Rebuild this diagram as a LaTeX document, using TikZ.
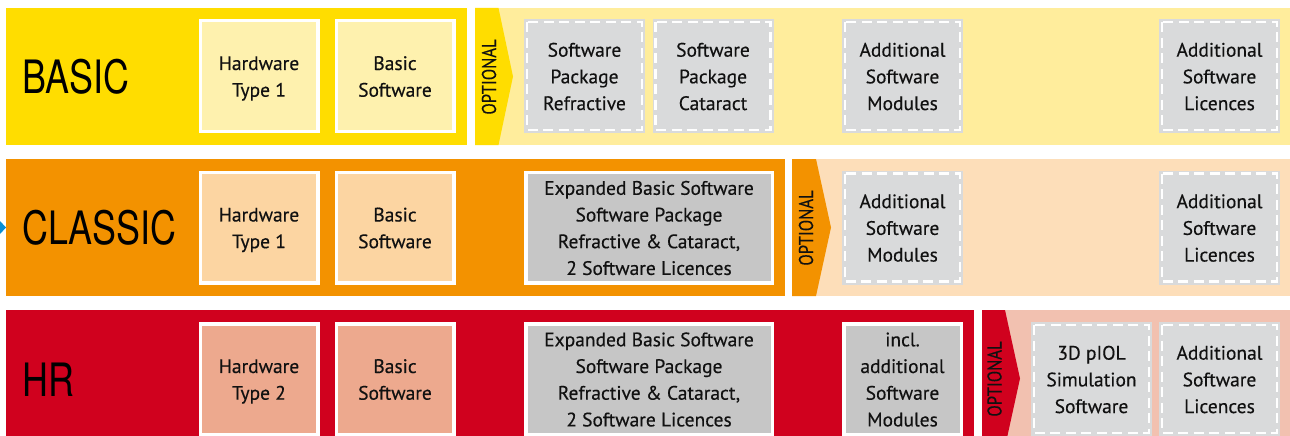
\documentclass[tikz,border=0pt]{standalone}
\usepackage{graphicx}
\usepackage{fontspec}
\setmainfont{PT Sans}[FakeBold=0.35]
\newfontfamily\titlefont{TeX Gyre Heros}
\definecolor{yelD}{HTML}{FFDD00}
\definecolor{yelL}{HTML}{FFED9C}
\definecolor{yelB}{HTML}{FEF1AE}
\definecolor{oraD}{HTML}{F39200}
\definecolor{oraL}{HTML}{FDDEB9}
\definecolor{oraB}{HTML}{FCD5A2}
\definecolor{redD}{HTML}{D0011E}
\definecolor{redL}{HTML}{F2C1B0}
\definecolor{redB}{HTML}{EDA98E}
\definecolor{greyDash}{HTML}{D9DADB}
\definecolor{greySolid}{HTML}{C6C6C6}
\definecolor{blueMark}{HTML}{0A8FD6}
\definecolor{txt}{HTML}{111111}
\tikzset{
  boxtext/.style={align=center, text=txt, inner sep=0pt,
    font=\fontsize{19.5}{26.7}\selectfont},
  solidbox/.style={boxtext, draw=white, line width=3.5pt,
    minimum width=117.5pt, minimum height=110.5pt},
  widebox/.style={solidbox, minimum width=246.5pt},
  dashbox/.style={boxtext, fill=greyDash, minimum width=121pt, minimum height=114pt,
    path picture={\draw[white, line width=2.5pt, dash pattern=on 10pt off 5.5pt]
      ([shift={(3.1pt,-3.1pt)}]path picture bounding box.north west) rectangle
      ([shift={(-3.1pt,3.1pt)}]path picture bounding box.south east);}},
  titlenode/.style={anchor=west, inner sep=0pt, text=black},
  optnode/.style={rotate=90, inner sep=0pt, text=txt,
    font=\fontsize{20}{20}\selectfont},
}
\newcommand{\ttl}[1]{\titlefont\fontsize{46}{46}\selectfont\scalebox{0.78}[1]{#1}}
\newcommand{\opt}{\scalebox{0.83}[1]{OPTIONAL}}
\newcommand{\bt}[1]{\raisebox{-2pt}[\height][\depth]{\begin{tabular}{@{}c@{}}#1\end{tabular}}}
\begin{document}
\begin{tikzpicture}[x=1pt,y=-1pt]
\useasboundingbox (0,0) rectangle (1290,436);
\clip (0,0) rectangle (1290,436);
\fill[white] (0,0) rectangle (1290,436);
% ---- bands
\fill[yelD] (6,8) rectangle (467,145);
\fill[yelL] (475,8) rectangle (1290,145);
\fill[yelD] (475,8) -- (498.5,8) -- (513,76.5) -- (498.5,145) -- (475,145) -- cycle;
\fill[oraD] (6,159) rectangle (785,296);
\fill[oraL] (792,159) rectangle (1290,296);
\fill[oraD] (792,159) -- (816,159) -- (831,227.5) -- (816,296) -- (792,296) -- cycle;
\fill[redD] (6,310) rectangle (974,447);
\fill[redL] (982,310) rectangle (1290,447);
\fill[redD] (982,310) -- (1005,310) -- (1020,378.5) -- (1005,447) -- (982,447) -- cycle;
\fill[blueMark] (0,221) -- (6,227.5) -- (0,234) -- cycle;
% ---- titles
\node[titlenode] (tBasic) at (22,76.5) {\ttl{BASIC}};
\node[titlenode] (tClassic) at (22,228) {\ttl{CLASSIC}};
\node[titlenode] (tHR) at (22,380) {\ttl{HR}};
\node[optnode] (o1) at (489,77) {\opt};
\node[optnode] (o2) at (806,228) {\opt};
\node[optnode] (o3) at (994.5,379) {\opt};
% ---- row BASIC
\node[solidbox, fill=yelB] (b1) at (259,76) {\bt{Hardware\\Type 1}};
\node[solidbox, fill=yelB] (b2) at (395,76) {\bt{Basic\\Software}};
\node[dashbox] (b3) at (584.5,76) {\bt{Software\\Package\\Refractive}};
\node[dashbox] (b4) at (713,76) {\bt{Software\\Package\\Cataract}};
\node[dashbox] (b5) at (902.5,76) {\bt{Additional\\Software\\Modules}};
\node[dashbox] (b6) at (1219.5,76) {\bt{Additional\\Software\\Licences}};
% ---- row CLASSIC
\node[solidbox, fill=oraB] (c1) at (259,227.5) {\bt{Hardware\\Type 1}};
\node[solidbox, fill=oraB] (c2) at (395,227.5) {\bt{Basic\\Software}};
\node[widebox, fill=greySolid] (c3) at (649,227.5) {\bt{Expanded Basic Software\\Software Package\\Refractive \& Cataract,\\2 Software Licences}};
\node[dashbox] (c4) at (902.5,227.5) {\bt{Additional\\Software\\Modules}};
\node[dashbox] (c5) at (1219.5,227.5) {\bt{Additional\\Software\\Licences}};
% ---- row HR
\node[solidbox, fill=redB] (h1) at (259,379) {\bt{Hardware\\Type 2}};
\node[solidbox, fill=redB] (h2) at (395,379) {\bt{Basic\\Software}};
\node[widebox, fill=greySolid] (h3) at (649,379) {\bt{Expanded Basic Software\\Software Package\\Refractive \& Cataract,\\2 Software Licences}};
\node[solidbox, fill=greySolid] (h4) at (902.5,379) {\bt{incl.\\additional\\Software\\Modules}};
\node[dashbox] (h5) at (1091.5,379) {\bt{3D pIOL\\Simulation\\Software}};
\node[dashbox] (h6) at (1219.5,379) {\bt{Additional\\Software\\Licences}};
\end{tikzpicture}
\end{document}
